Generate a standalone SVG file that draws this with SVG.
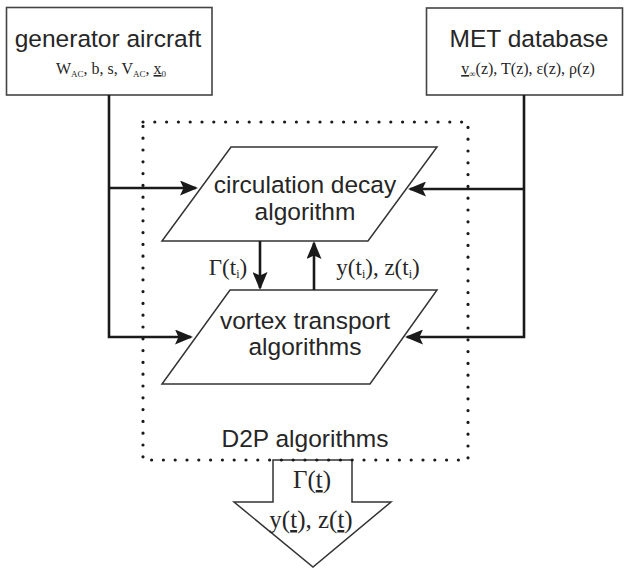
<svg xmlns="http://www.w3.org/2000/svg" width="625" height="570" viewBox="0 0 625 570">
<style>
.box{fill:#fff;stroke:#444;stroke-width:1.6}
.para{fill:#fff;stroke:#333;stroke-width:1.5}
.sans{font-family:"Liberation Sans",Arial,sans-serif;font-size:24.5px;fill:#262626;text-anchor:middle}
.serif{font-family:"Liberation Serif","Times New Roman",serif;fill:#262626;text-anchor:middle}
.conn{fill:none;stroke:#1a1a1a;stroke-width:2.6}
.dots{fill:none;stroke:#1a1a1a;stroke-width:3.2;stroke-linecap:round;stroke-dasharray:0 11.8}
</style>
<defs>
<marker id="arr" viewBox="0 0 18 15" refX="16" refY="7.5" markerWidth="18" markerHeight="15" markerUnits="userSpaceOnUse" orient="auto">
<path d="M0,0 L18,7.5 L0,15 L3.5,7.5 z" fill="#1a1a1a"/>
</marker>
</defs>

<g id="generator-aircraft">
<rect class="box" x="6.5" y="7.5" width="205.5" height="87.5"/>
<text class="sans" x="108" y="47">generator aircraft</text>
<text class="serif" x="111" y="74" font-size="16">W<tspan font-size="9" dy="3">AC</tspan><tspan dy="-3">, b, s, V</tspan><tspan font-size="9" dy="3">AC</tspan><tspan dy="-3">, </tspan><tspan text-decoration="underline">x</tspan><tspan font-size="9" dy="3">0</tspan></text>
</g>

<g id="met-database">
<rect class="box" x="426.5" y="8" width="196" height="87"/>
<text class="sans" x="529" y="47">MET database</text>
<text class="serif" x="528" y="74" font-size="16"><tspan text-decoration="underline">v</tspan><tspan font-size="9" dy="3">∞</tspan><tspan dy="-3">(z), T(z), ε(z), ρ(z)</tspan></text>
</g>

<g id="d2p-algorithms">
<text class="sans" x="305" y="447" font-size="25">D2P algorithms</text>
</g>

<g id="output-arrow">
<polygon class="para" points="273,460 352,460 352,502 391,502 313,567 234,502 273,502"/>
<text class="serif" x="312" y="488" font-size="25">Γ(<tspan text-decoration="underline">t</tspan>)</text>
<text class="serif" x="311" y="528" font-size="25">y(<tspan text-decoration="underline">t</tspan>), z(<tspan text-decoration="underline">t</tspan>)</text>
</g>

<g id="d2p-frame">
<rect class="dots" x="143" y="122" width="325" height="338"/>
</g>

<g id="circulation-decay">
<polygon class="para" points="231,147 437,147 368,241 162,241"/>
<text class="sans" x="305" y="193">circulation decay</text>
<text class="sans" x="305" y="220">algorithm</text>
</g>

<g id="vortex-transport">
<polygon class="para" points="230,290 437,290 370,384 162,384"/>
<text class="sans" x="305" y="329">vortex transport</text>
<text class="sans" x="305" y="355">algorithms</text>
</g>

<g id="connectors">
<path class="conn" d="M109,95 V337 H191" marker-end="url(#arr)"/>
<path class="conn" d="M109,188 H196" marker-end="url(#arr)"/>
<path class="conn" d="M524,95 V337 H407" marker-end="url(#arr)"/>
<path class="conn" d="M524,189 H410" marker-end="url(#arr)"/>
<path class="conn" d="M260,241 V288" marker-end="url(#arr)"/>
<path class="conn" d="M314,290 V243" marker-end="url(#arr)"/>
</g>

<g id="labels">
<text class="serif" x="228" y="275" font-size="23">Γ(t<tspan font-size="12" dy="3">i</tspan><tspan dy="-3">)</tspan></text>
<text class="serif" x="378" y="275" font-size="23">y(t<tspan font-size="12" dy="3">i</tspan><tspan dy="-3">), z(t</tspan><tspan font-size="12" dy="3">i</tspan><tspan dy="-3">)</tspan></text>
</g>
</svg>
